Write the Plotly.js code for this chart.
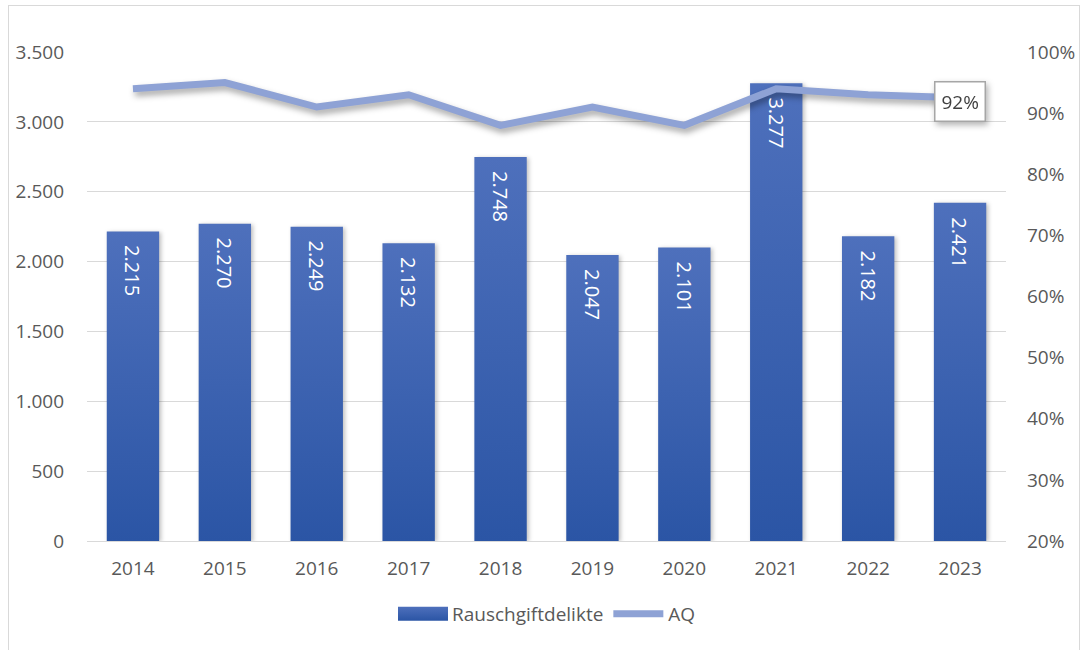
<!DOCTYPE html>
<html>
<head>
<meta charset="utf-8">
<script src="https://cdn.plot.ly/plotly-3.0.1.min.js"></script>
<style>
  html, body { margin: 0; padding: 0; background: #fff; }
  #wrap { position: relative; width: 1085px; height: 650px; }
  #chart { width: 1085px; height: 650px; }
  #frame { position: absolute; left: 8px; top: 5px; width: 1070px; height: 660px; border: 1px solid #D9D9D9; pointer-events: none; }
  #chart .bars .point path { fill: url(#barGrad) !important; filter: drop-shadow(2px 1px 2px rgba(0,0,0,0.25)); }
  #chart .legendpoints path.legendbar, #chart .legendpoints path.legendundefined { fill: url(#barGrad) !important; }
  #chart .scatterlayer .js-line { filter: drop-shadow(2px 4px 3px rgba(0,0,0,0.35)); }
  #chart .annotation.aqbox { filter: drop-shadow(2px 3px 3px rgba(0,0,0,0.3)); }
</style>
</head>
<body>
<svg width="0" height="0" style="position:absolute">
  <defs>
    <linearGradient id="barGrad" x1="0" y1="0" x2="0" y2="1">
      <stop offset="0" stop-color="#4E70BC"/>
      <stop offset="1" stop-color="#2B55A5"/>
    </linearGradient>
  </defs>
</svg>
<div id="wrap">
  <div id="chart"></div>
  <div id="frame"></div>
</div>
<script>
const years = ['2014','2015','2016','2017','2018','2019','2020','2021','2022','2023'];
const rauschgiftdelikte = [2215, 2270, 2249, 2132, 2748, 2047, 2101, 3277, 2182, 2421];
const aq = [94, 95, 91, 93, 88, 91, 88, 94, 93, 92.5];
const aqLabelIndex = 9;
const aqLabelText = '92%';

const fontFam = 'Open Sans, Liberation Sans, sans-serif';
const textCol = '#595959';

function fmtDE(v) {
  return String(v).replace(/\B(?=(\d{3})+(?!\d))/g, '.');
}

const traces = [
  {
    type: 'bar',
    name: 'Rauschgiftdelikte',
    x: years,
    y: rauschgiftdelikte,
    width: 0.57,
    marker: { color: '#3A61B2' },
    hoverinfo: 'x+y'
  },
  {
    type: 'scatter',
    mode: 'lines',
    name: 'AQ',
    x: years,
    y: aq,
    yaxis: 'y2',
    line: { color: '#8EA2D5', width: 7 }
  }
];

const barLabels = years.map((yr, i) => ({
  x: i,
  y: rauschgiftdelikte[i],
  xref: 'x',
  yref: 'y',
  text: fmtDE(rauschgiftdelikte[i]),
  textangle: 90,
  showarrow: false,
  yanchor: 'top',
  xanchor: 'center',
  yshift: -12,
  font: { size: 20, color: '#ffffff', family: fontFam }
}));

const layout = {
  width: 1085,
  height: 650,
  margin: { l: 87, r: 79, t: 52, b: 109 },
  paper_bgcolor: '#ffffff',
  plot_bgcolor: '#ffffff',
  separators: ',.',
  font: { family: fontFam, color: textCol, size: 19 },
  showlegend: true,
  legend: {
    orientation: 'h',
    x: 0.5, xanchor: 'center',
    y: -0.11, yanchor: 'top',
    font: { size: 19, color: textCol, family: fontFam },
    itemwidth: 50
  },
  xaxis: {
    type: 'category',
    range: [-0.5, years.length - 0.5],
    autorange: false,
    showgrid: false,
    showline: true,
    linecolor: '#D9D9D9',
    linewidth: 1,
    ticks: '',
    ticklabelstandoff: 10,
    tickfont: { size: 19, color: textCol },
    zeroline: false
  },
  yaxis: {
    range: [0, 3500],
    dtick: 500,
    tickformat: ',',
    showgrid: true,
    gridcolor: '#D9D9D9',
    gridwidth: 1,
    zeroline: false,
    showline: false,
    ticks: '',
    ticklabelstandoff: 22,
    tickfont: { size: 19, color: textCol }
  },
  yaxis2: {
    overlaying: 'y',
    side: 'right',
    range: [20, 100],
    dtick: 10,
    ticksuffix: '%',
    showgrid: false,
    zeroline: false,
    showline: false,
    ticks: '',
    ticklabelstandoff: 20,
    tickfont: { size: 19, color: textCol }
  },
  annotations: barLabels.concat([
    {
      x: aqLabelIndex,
      y: aq[aqLabelIndex],
      xref: 'x',
      yref: 'y2',
      text: aqLabelText,
      showarrow: false,
      bgcolor: '#ffffff',
      bordercolor: '#A6A6A6',
      borderwidth: 1.5,
      borderpad: 6,
      font: { size: 19, color: '#404040', family: fontFam },
      yshift: -4
    }
  ])
};

Plotly.newPlot('chart', traces, layout, { displayModeBar: false, staticPlot: true }).then(gd => {
  const anns = gd.querySelectorAll('.annotation');
  if (anns.length) anns[anns.length - 1].classList.add('aqbox');
  // widen the bar legend swatch to a rectangle like the reference
  const barTrace = gd.querySelector('.legend .traces .legendpoints .legendbar, .legend .traces .legendpoints path.legendundefined');
  const legPaths = gd.querySelectorAll('.legend .traces')[0];
  if (legPaths) {
    const p = legPaths.querySelector('.legendpoints path');
    if (p) {
      p.setAttribute('d', 'M-24,7H26V-7H-24Z');
      p.style.fill = 'url(#barGrad)';
      p.style.stroke = 'none';
    }
  }
});
</script>
</body>
</html>
